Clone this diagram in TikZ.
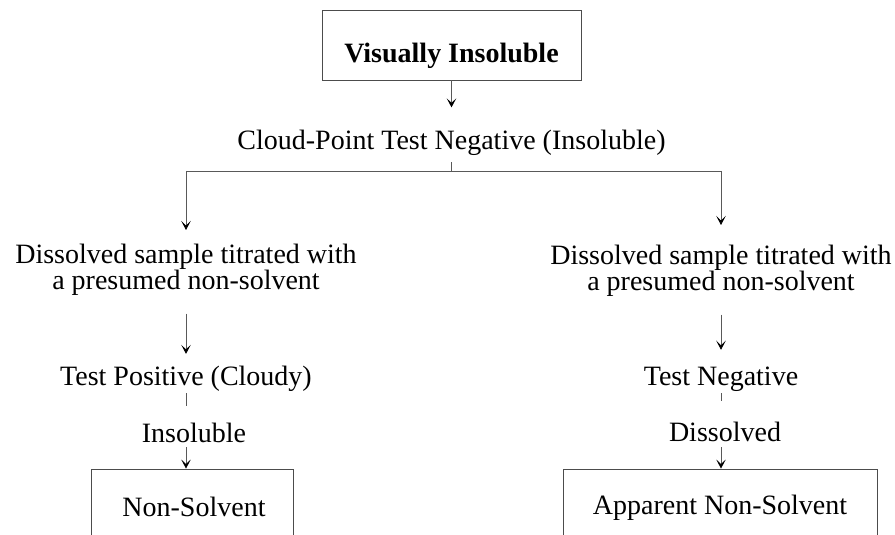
\documentclass[tikz,border=0pt]{standalone}
\usepackage{fontspec}
\setmainfont{Liberation Serif}
\usetikzlibrary{arrows.meta}
\begin{document}
\begin{tikzpicture}[x=1pt,y=1pt,
  txt/.style={inner sep=0pt, font=\fontsize{28}{25}\selectfont, align=center},
  boldtxt/.style={txt, font=\fontsize{28}{25}\selectfont\bfseries},
  boxed/.style={draw=black!70, line width=0.9pt, inner sep=0pt},
  conn/.style={draw=black!65, line width=0.8pt},
  arr/.style={conn, -{Stealth[length=9pt,width=9.5pt,inset=4.5pt,color=black]}}]
\useasboundingbox (0,0) rectangle (895,535);
\clip (0,0) rectangle (895,535);

% top
\node[boxed, minimum width=259pt, minimum height=70pt] (topbox) at (451.5,490) {};
\node[boldtxt, anchor=base] (toptext) at (451.5,472) {Visually Insoluble};
\node[txt, anchor=base] (cloud) at (451.5,385) {Cloud-Point Test Negative (Insoluble)};

% left column
\node[txt, anchor=north] (ldis) at (186,291.5) {Dissolved sample titrated with\\a presumed non-solvent};
\node[txt, anchor=base] (lpos) at (186,149) {Test Positive (Cloudy)};
\node[txt, anchor=base] (lins) at (194,92) {Insoluble};
\node[boxed, minimum width=202pt, minimum height=100pt] (lbox) at (192,16) {};
\node[txt, anchor=base] (lnon) at (194,18) {Non-Solvent};

% right column
\node[txt, anchor=north] (rdis) at (721,290.5) {Dissolved sample titrated with\\a presumed non-solvent};
\node[txt, anchor=base] (rneg) at (721,149) {Test Negative};
\node[txt, anchor=base] (rdiss) at (725,93) {Dissolved};
\node[boxed, minimum width=314pt, minimum height=100pt] (rbox) at (720,16) {};
\node[txt, anchor=base] (rnon) at (720,20) {Apparent Non-Solvent};

% connectors
\coordinate (fork) at (451.5,364);
\coordinate (lfork) at (186,364);
\coordinate (rfork) at (721,364);
\draw[arr] (topbox.south) -- ([yshift=23pt]cloud.north);
\draw[conn] ([yshift=-6pt]cloud.south) -- (fork);
\draw[conn] (lfork) -- (rfork);
\draw[arr] (lfork) -- ([yshift=13.5pt]ldis.north);
\draw[arr] (rfork) -- ([yshift=19.5pt]rdis.north);

\draw[arr] ([yshift=-18pt]ldis.south) -- ([yshift=12.5pt]lpos.north);
\draw[conn] ([yshift=-1pt]lpos.south) -- ([yshift=17pt]lpos.south |- lins.north);
\draw[arr] ([yshift=-4pt]lpos.south |- lins.south) -- (lpos.south |- lbox.north);

\draw[arr] ([yshift=-18pt]rdis.south) -- ([yshift=17.5pt]rneg.north);
\draw[conn] ([yshift=-1pt]rneg.south) -- ([yshift=21pt]rneg.south |- rdiss.north);
\draw[arr] ([yshift=-5pt]rneg.south |- rdiss.south) -- (rneg.south |- rbox.north);
\end{tikzpicture}
\end{document}
